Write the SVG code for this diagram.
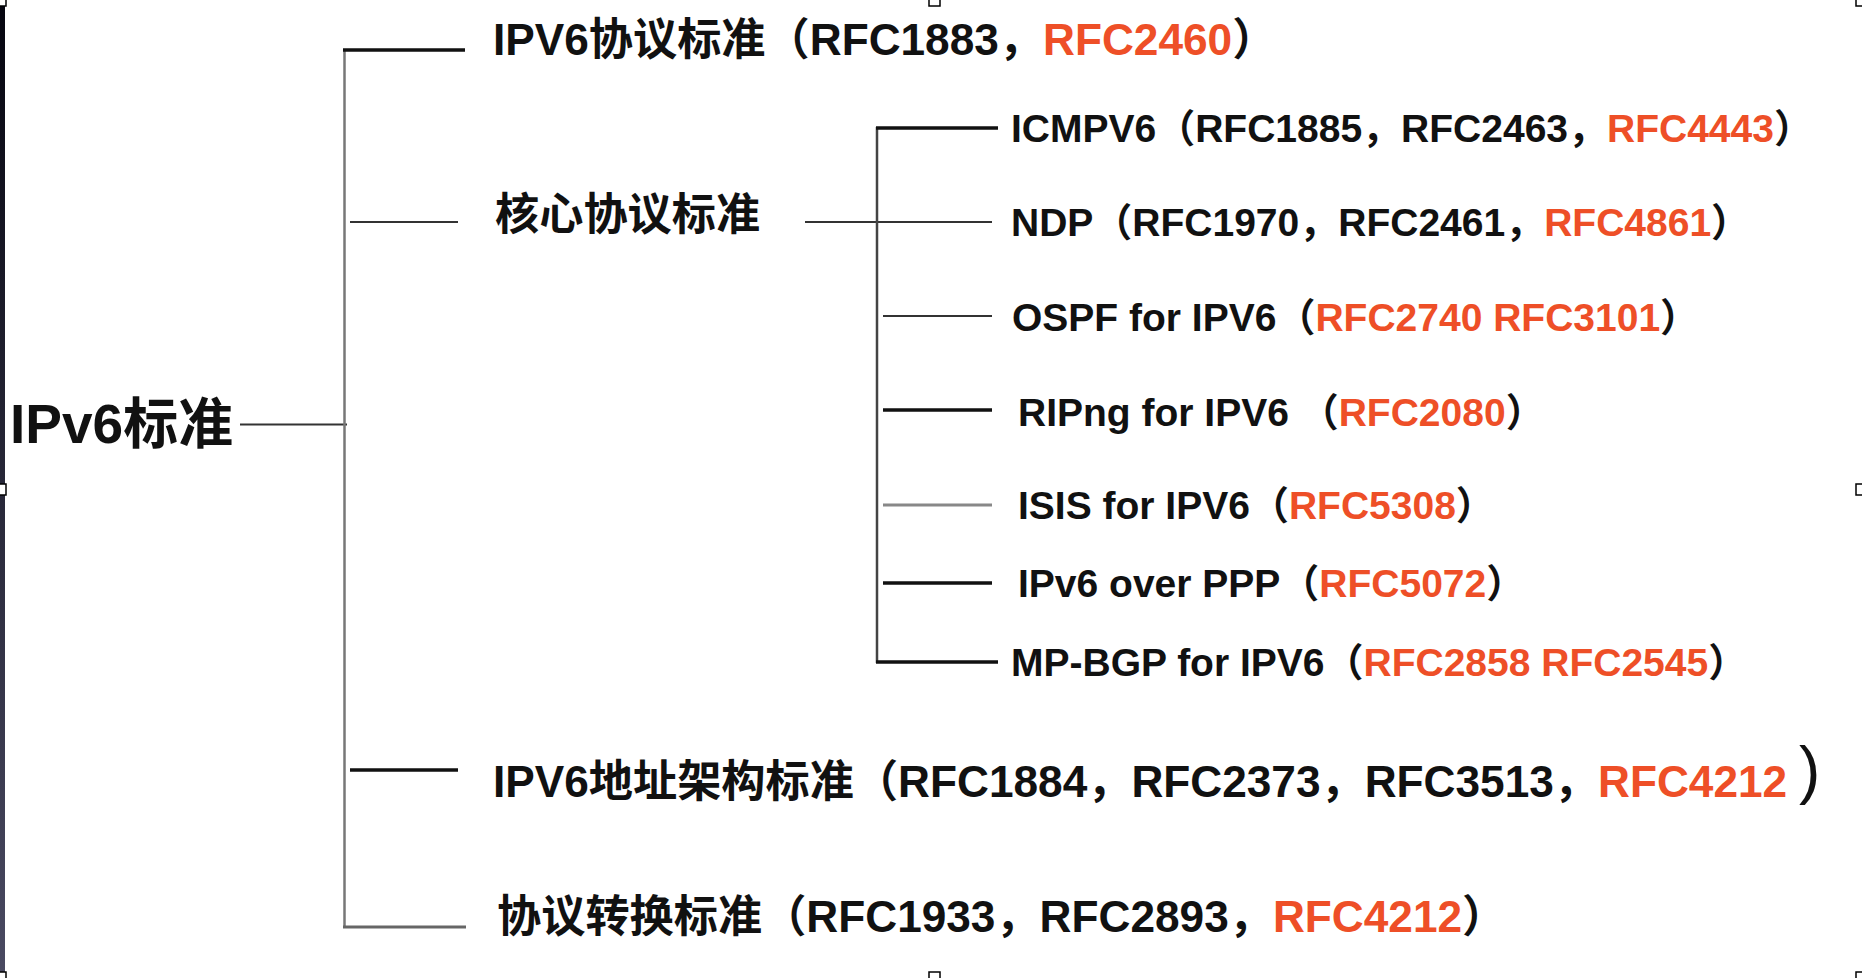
<svg xmlns="http://www.w3.org/2000/svg" width="1862" height="978" viewBox="0 0 1862 978">
<defs>
<style>
.t{font-family:"Liberation Sans","Noto Sans CJK SC",sans-serif;font-weight:bold;fill:#111}
.main{font-size:44.2px}
.sub{font-size:39px}
.root{font-size:55px}
.red{fill:#EE4F27}
.thick{stroke:#111;stroke-width:3.5;fill:none}
.thin{stroke:#333;stroke-width:2;fill:none}
.gray{stroke:#777;stroke-width:2.5;fill:none}
.handle{fill:#fff;stroke:#000;stroke-width:1.5}
</style>
<linearGradient id="strip" x1="0" y1="0" x2="0" y2="1">
<stop offset="0" stop-color="#05050f"/>
<stop offset="1" stop-color="#4a4a62"/>
</linearGradient>
</defs>
<rect x="0" y="0" width="1862" height="978" fill="#fff"/>
<rect x="0" y="0" width="5" height="978" fill="url(#strip)"/>

<g id="connectors">
<line class="thin" x1="240" y1="424.5" x2="347" y2="424.5"/>
<line class="gray" x1="344.5" y1="49" x2="344.5" y2="928"/>
<line class="thick" x1="343" y1="50" x2="465" y2="50"/>
<line class="thin" x1="350" y1="222" x2="458" y2="222"/>
<line class="thin" x1="805" y1="222" x2="992" y2="222"/>
<line class="gray" x1="877" y1="127" x2="877" y2="663" style="stroke:#444"/>
<line class="thick" x1="876" y1="128" x2="998" y2="128"/>
<line class="thin" x1="883" y1="316" x2="992" y2="316"/>
<line class="thick" x1="883" y1="410" x2="992" y2="410"/>
<line class="gray" x1="883" y1="505" x2="992" y2="505" style="stroke:#888;stroke-width:3"/>
<line class="thick" x1="883" y1="583" x2="992" y2="583"/>
<line class="thick" x1="876" y1="662" x2="998" y2="662"/>
<line class="thick" x1="350" y1="770" x2="458" y2="770"/>
<line class="gray" x1="343" y1="927" x2="466" y2="927" style="stroke:#666;stroke-width:3"/>
</g>

<g id="root"><text class="t root" x="10" y="443">IPv6标准</text></g>
<g id="n-protocol"><text class="t main" x="493" y="55">IPV6协议标准（RFC1883，<tspan class="red">RFC2460</tspan>）</text></g>
<g id="n-core"><text class="t main" x="495" y="230">核心协议标准</text></g>
<g id="n-icmpv6"><text class="t sub" x="1011" y="142">ICMPV6（RFC1885，RFC2463，<tspan class="red">RFC4443</tspan>）</text></g>
<g id="n-ndp"><text class="t sub" x="1011" y="236">NDP（RFC1970，RFC2461，<tspan class="red">RFC4861</tspan>）</text></g>
<g id="n-ospf"><text class="t sub" x="1012" y="331">OSPF for IPV6（<tspan class="red">RFC2740 RFC3101</tspan>）</text></g>
<g id="n-ripng"><text class="t sub" x="1018" y="426">RIPng for IPV6 （<tspan class="red">RFC2080</tspan>）</text></g>
<g id="n-isis"><text class="t sub" x="1018" y="519">ISIS for IPV6（<tspan class="red">RFC5308</tspan>）</text></g>
<g id="n-ppp"><text class="t sub" x="1018" y="597">IPv6 over PPP（<tspan class="red">RFC5072</tspan>）</text></g>
<g id="n-mpbgp"><text class="t sub" x="1011" y="676">MP-BGP for IPV6（<tspan class="red">RFC2858 RFC2545</tspan>）</text></g>
<g id="n-address"><text class="t main" x="493" y="797">IPV6地址架构标准（RFC1884，RFC2373，RFC3513，<tspan class="red">RFC4212</tspan></text>
<text x="1799" y="792" style="font-family:'Liberation Sans',sans-serif;font-size:64px;fill:#111">)</text></g>
<g id="n-transition"><text class="t main" x="497" y="932">协议转换标准（RFC1933，RFC2893，<tspan class="red">RFC4212</tspan>）</text></g>

<g id="handles">
<rect class="handle" x="-5" y="-5" width="11" height="11"/>
<rect class="handle" x="929" y="-5" width="11" height="11"/>
<rect class="handle" x="1856" y="-5" width="11" height="11"/>
<rect class="handle" x="-5" y="484" width="11" height="11"/>
<rect class="handle" x="1856" y="484" width="11" height="11"/>
<rect class="handle" x="-5" y="972" width="11" height="11"/>
<rect class="handle" x="929" y="972" width="11" height="11"/>
<rect class="handle" x="1856" y="972" width="11" height="11"/>
</g>
</svg>
